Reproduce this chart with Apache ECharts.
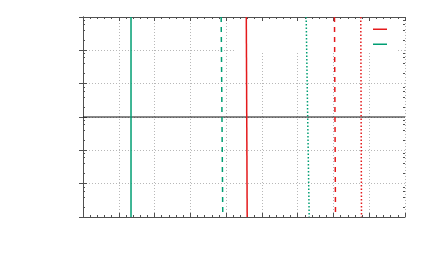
<!DOCTYPE html>
<html>
<head>
<meta charset="utf-8">
<script src="https://cdn.jsdelivr.net/npm/echarts@6/dist/echarts.min.js"></script>
<style>html,body{margin:0;padding:0;background:#fff}#c{width:432px;height:267px}</style>
</head>
<body>
<div id="c"></div>
<script>
// x axis range (linear) and y axis range (log)
const xRange = [0, 9];
const yRange = [0.001, 1000];
// y values at the ends of every near-vertical curve (top, bottom)
const yEnds = [1000, 0.001];
// x values of each curve at top and bottom
const greenSolidX = [1.342, 1.342];
const greenDashedX = [3.862, 3.907];
const redSolidX = [4.564, 4.589];
const greenDottedX = [6.238, 6.322];
const redDashedX = [7.029, 7.057];
const redDottedX = [7.764, 7.784];
// horizontal reference line
const refLineX = [0, 9];
const refLineY = [1, 1];
// minor tick values on log y axis (2,4,6,8 of each decade)
const yMinorTicks = [
  0.002,0.004,0.006,0.008,
  0.02,0.04,0.06,0.08,
  0.2,0.4,0.6,0.8,
  2,4,6,8,
  20,40,60,80,
  200,400,600,800
];

const RED = '#e41a1c', GREEN = '#009e73', AX = '#505050', GRID = '#b8b8b8';
const pts = (xs, ys) => xs.map((x, i) => [x, ys[i]]);

const baseX = {
  type: 'value', min: xRange[0], max: xRange[1], interval: 1,
  axisLine: {show: true, lineStyle: {color: AX, width: 1}},
  axisTick: {show: true, inside: true, length: 4, lineStyle: {color: AX}},
  minorTick: {show: true, splitNumber: 5, length: 2, lineStyle: {color: AX}},
  axisLabel: {show: false},
  splitLine: {show: false}
};
const baseY = {
  type: 'log', logBase: 10, min: yRange[0], max: yRange[1],
  axisLine: {show: true, lineStyle: {color: AX, width: 1}},
  axisTick: {show: true, inside: true, length: 4, lineStyle: {color: AX}},
  axisLabel: {show: false},
  splitLine: {show: false}
};
const minorY = (pos) => Object.assign({}, baseY, {
  position: pos,
  axisLine: {show: false},
  axisTick: {show: true, inside: true, length: 2, customValues: yMinorTicks, lineStyle: {color: AX}}
});

function line(name, xs, color, type) {
  return {
    name: name, type: 'line', data: pts(xs, yEnds), showSymbol: false, symbol: 'none',
    lineStyle: {color: color, width: 1.5, type: type}, itemStyle: {color: color},
    z: 3, silent: true, animation: false
  };
}

const chart = echarts.init(document.getElementById('c'), null, {renderer: 'canvas'});
chart.setOption({
  animation: false,
  backgroundColor: '#fff',
  grid: {left: 83, top: 17, right: 27, bottom: 50, containLabel: false},
  xAxis: [
    Object.assign({}, baseX, {position: 'bottom',
      splitLine: {show: true, lineStyle: {color: GRID, type: [1, 2], width: 1}}}),
    Object.assign({}, baseX, {position: 'top'})
  ],
  yAxis: [
    Object.assign({}, baseY, {position: 'left',
      splitLine: {show: true, lineStyle: {color: GRID, type: [1, 2], width: 1}}}),
    Object.assign({}, baseY, {position: 'right'}),
    minorY('left'),
    minorY('right')
  ],
  legend: {
    show: true, orient: 'vertical', left: 373, top: 28.5, padding: 0,
    itemWidth: 14, itemHeight: 1.5, itemGap: 13.5,
    icon: 'rect',
    formatter: function () { return ''; },
    textStyle: {fontSize: 1, lineHeight: 1},
    data: ['red', 'green'],
    selectedMode: false
  },
  graphic: [{
    type: 'rect', z: 1, silent: true,
    shape: {x: 235, y: 22, width: 161, height: 30},
    style: {fill: '#fff'}
  }],
  series: [
    {name: 'ref', type: 'line', data: pts(refLineX, refLineY), showSymbol: false, symbol: 'none',
     lineStyle: {color: '#111', width: 1}, z: 3, silent: true},
    line('green', greenSolidX, GREEN, 'solid'),
    line('gdash', greenDashedX, GREEN, [5, 5]),
    line('red', redSolidX, RED, 'solid'),
    line('gdot', greenDottedX, GREEN, [1.5, 2]),
    line('rdash', redDashedX, RED, [5, 5]),
    line('rdot', redDottedX, RED, [1.5, 2])
  ]
});
</script>
</body>
</html>
